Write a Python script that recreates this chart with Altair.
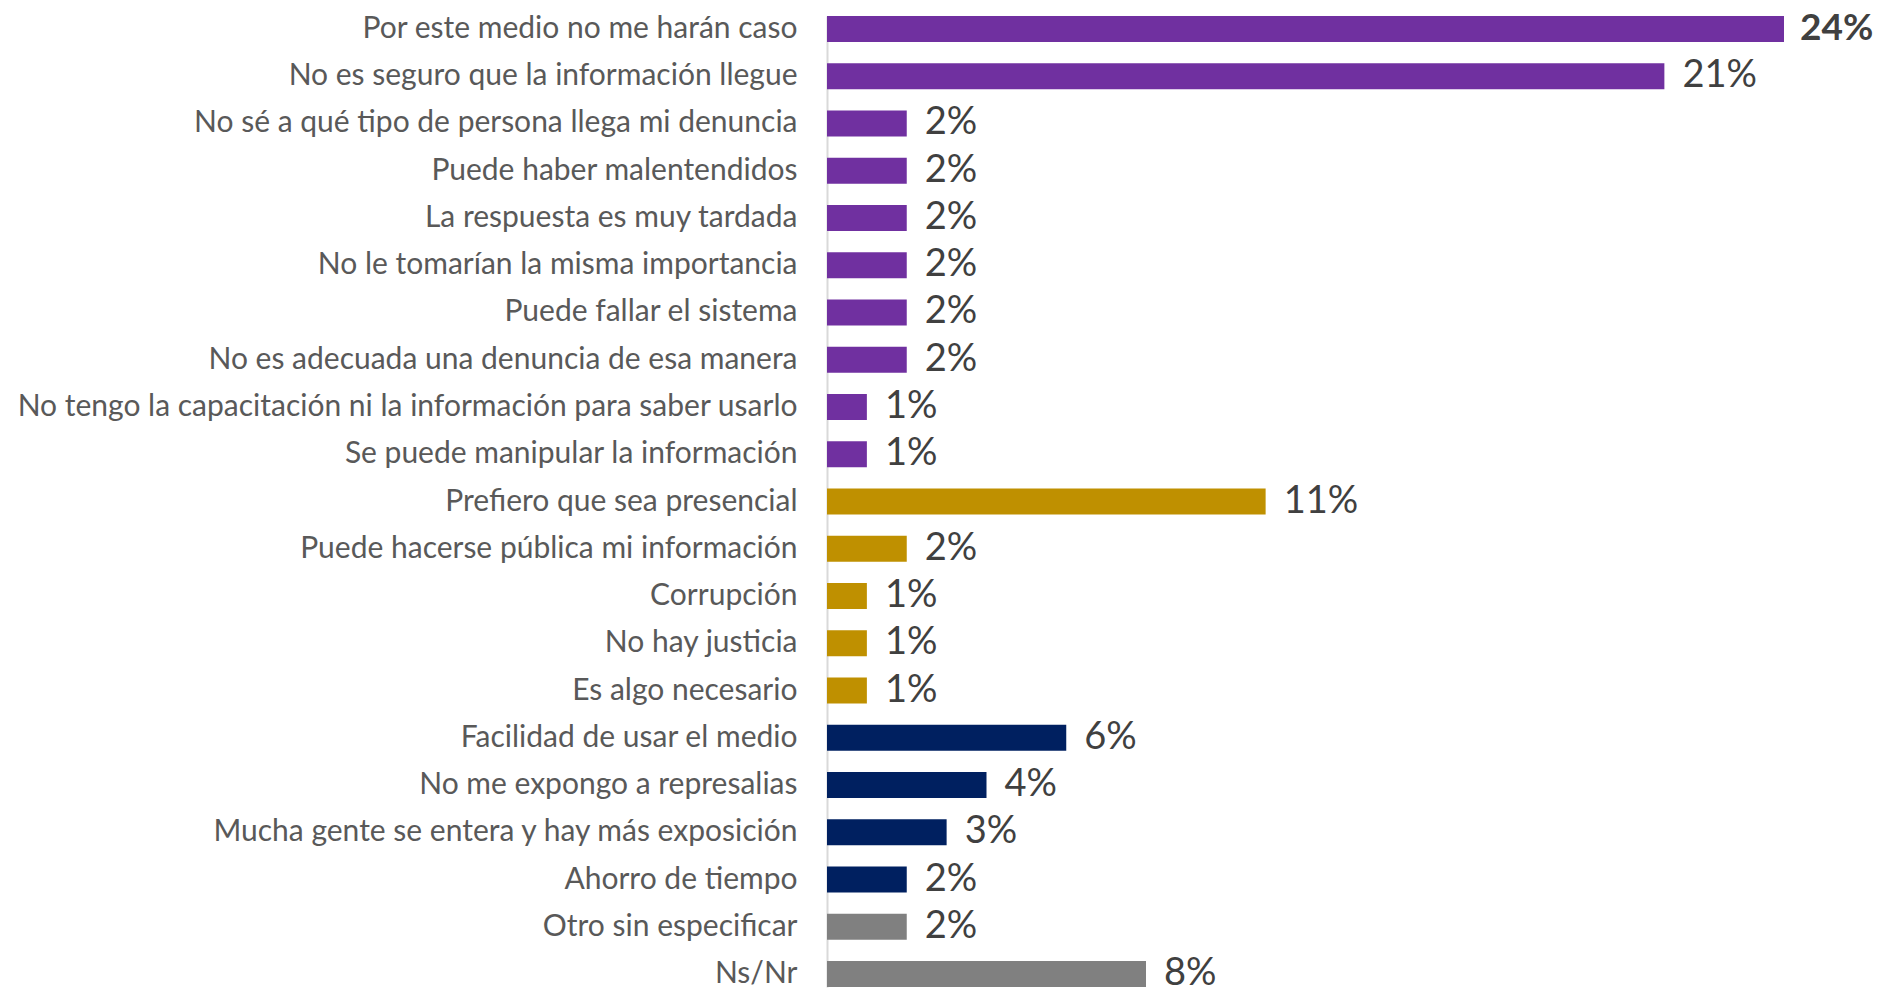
import altair as alt
import pandas as pd

categories = [
    "Por este medio no me harán caso",
    "No es seguro que la información llegue",
    "No sé a qué tipo de persona llega mi denuncia",
    "Puede haber malentendidos",
    "La respuesta es muy tardada",
    "No le tomarían la misma importancia",
    "Puede fallar el sistema",
    "No es adecuada una denuncia de esa manera",
    "No tengo la capacitación ni la información para saber usarlo",
    "Se puede manipular la información",
    "Prefiero que sea presencial",
    "Puede hacerse pública mi información",
    "Corrupción",
    "No hay justicia",
    "Es algo necesario",
    "Facilidad de usar el medio",
    "No me expongo a represalias",
    "Mucha gente se entera y hay más exposición",
    "Ahorro de tiempo",
    "Otro sin especificar",
    "Ns/Nr",
]
values = [24, 21, 2, 2, 2, 2, 2, 2, 1, 1, 11, 2, 1, 1, 1, 6, 4, 3, 2, 2, 8]
groups = ["a"] * 10 + ["b"] * 5 + ["c"] * 4 + ["d"] * 2
bold = [True] + [False] * 20

group_names = ["a", "b", "c", "d"]
group_colors = ["#7030A0", "#BF9000", "#002060", "#808080"]

df = pd.DataFrame({
    "cat": categories,
    "val": values,
    "grp": groups,
    "label": [f"{v}%" for v in values],
    "bold": bold,
})

y_enc = alt.Y(
    "cat:N",
    sort=categories,
    scale=alt.Scale(paddingInner=0.45, paddingOuter=0, range=[8, 979]),
    axis=alt.Axis(
        title=None,
        domain=True,
        domainColor="#D9D9D9",
        domainWidth=2,
        ticks=False,
        labelFont="Lato",
        labelFontSize=30,
        labelColor="#595959",
        labelPadding=30,
        labelLimit=1000,
    ),
)
x_enc = alt.X("val:Q", scale=alt.Scale(domain=[0, 24], nice=False), axis=None)

bars = alt.Chart(df).mark_bar(size=26).encode(
    y=y_enc,
    x=x_enc,
    color=alt.Color("grp:N", scale=alt.Scale(domain=group_names, range=group_colors), legend=None),
)

text_normal = alt.Chart(df).transform_filter("!datum.bold").mark_text(
    align="left", baseline="middle", dx=18, font="Lato", fontSize=38, color="#404040"
).encode(y=alt.Y("cat:N", sort=categories), x="val:Q", text="label:N")

text_bold = alt.Chart(df).transform_filter("datum.bold").mark_text(
    align="left", baseline="middle", dx=16, font="Lato", fontSize=37, fontWeight="bold", color="#404040"
).encode(y=alt.Y("cat:N", sort=categories), x="val:Q", text="label:N")

chart = alt.layer(bars, text_normal, text_bold).properties(
    width=957,
    height=976,
    padding={"left": 819, "top": 0, "right": 92, "bottom": 4},
    autosize=alt.AutoSizeParams(type="none"),
).configure_view(stroke=None)

chart.save("out.html", embed_options={"renderer": "svg", "actions": False})
